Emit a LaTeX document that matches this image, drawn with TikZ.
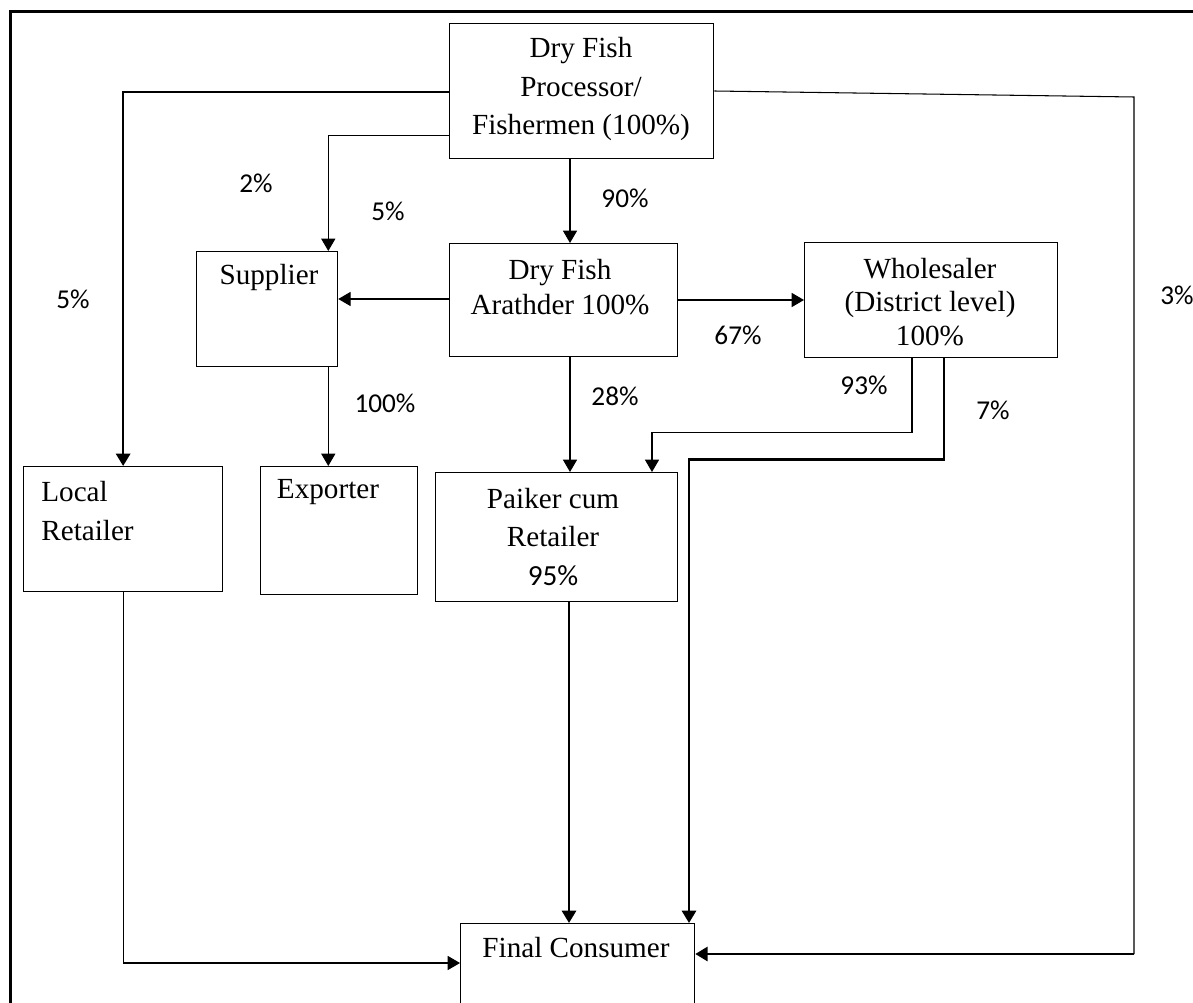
\documentclass[tikz,border=0pt]{standalone}
\usepackage{fontspec}
\setmainfont{Liberation Serif}
\newfontfamily\pctfont{Carlito}
\usepackage{tikz}
\usetikzlibrary{arrows.meta, calc}

\begin{document}
\begin{tikzpicture}[x=0.02cm, y=-0.02cm, >={Triangle[width=8pt,length=7pt]},
  box/.style={draw, line width=0.75pt, anchor=north west, inner sep=0pt},
  txt/.style={font=\fontsize{16.6}{21.8}\selectfont, align=center, inner sep=0pt},
  pct/.style={font=\pctfont\fontsize{15.5}{18}\selectfont, inner sep=0pt},
  link/.style={line width=0.6pt},
  boldlink/.style={line width=1.5pt}]
  \useasboundingbox (0,0) rectangle (1193,1003);
  % outer frame
  \draw[line width=1.4pt] (10.7,1010) -- (10.7,11.7) -- (1200,11.7);

  % boxes
  \node[box, minimum width=5.28cm, minimum height=2.7cm] (proc) at (449,23) {};
  \node[box, minimum width=2.82cm, minimum height=2.3cm] (sup) at (196,251) {};
  \node[box, minimum width=4.56cm, minimum height=2.26cm] (arat) at (449,243) {};
  \node[box, minimum width=5.06cm, minimum height=2.3cm] (whol) at (804,242) {};
  \node[box, minimum width=3.98cm, minimum height=2.5cm] (loc) at (23,466) {};
  \node[box, minimum width=3.14cm, minimum height=2.56cm] (exp) at (260,466) {};
  \node[box, minimum width=4.84cm, minimum height=2.58cm] (paik) at (435,472) {};
  \node[box, minimum width=4.68cm, minimum height=1.9cm] (fin) at (460,923) {};

  % box texts
  \node[txt] (procT) at (581,89) {Dry Fish\\Processor/\\Fishermen (100\%)};
  \node[txt] (supT) at (269,277) {Supplier};
  \node[txt, font=\fontsize{16.6}{20.4}\selectfont] (aratT) at (560,287) {Dry Fish\\Arathder 100\%};
  \node[txt, font=\fontsize{16.6}{19}\selectfont] (wholT) at (930,302) {Wholesaler\\(District level)\\100\%};
  \node[txt] (paikT) at (553,537) {Paiker cum\\Retailer\\{\pctfont 95\%}};
  \node[txt, align=left, anchor=west] (locT) at (41,511) {Local\\Retailer};
  \node[txt] (expT) at (328,492) {Exporter};
  \node[txt] (finT) at (576,948) {Final Consumer};

  % flows
  \draw[boldlink, ->] ($(proc.north west)+(0,69)$) -| (loc.north);
  \draw[link, ->] ($(proc.south west)+(0,-24)$) -| ($(sup.north east)+(-10,0)$);
  \draw[link, ->] ($(proc.south west)+(121,0)$) -- ($(arat.north west)+(121,0)$);
  \coordinate (c3) at (1134,97);
  \coordinate (finR) at ($(fin.north east)+(0,31)$);
  \draw[link] ($(proc.north east)+(0,68)$) -- (c3) -- (c3 |- finR);
  \draw[boldlink, ->] (c3 |- finR) -- (finR);
  \draw[link, ->] ($(arat.north west)+(0,56)$) coordinate (a1) -- (a1 -| sup.east);
  \draw[link, ->] ($(arat.north east)+(0,57)$) coordinate (a2) -- (a2 -| whol.west);
  \draw[link, ->] ($(sup.south east)+(-10,0)$) coordinate (s1) -- (s1 |- exp.north);
  \draw[link, ->] ($(arat.south west)+(121,0)$) coordinate (a3) -- (a3 |- paik.north);
  \draw[link, ->] ($(whol.south west)+(108,0)$) -- ++(0,74) -| ($(paik.north west)+(217,0)$);
  \draw[boldlink, ->] ($(whol.south west)+(140,0)$) -- ++(0,101) -| ($(fin.north west)+(229,0)$);
  \draw[boldlink, ->] ($(paik.south west)+(134,0)$) coordinate (p1) -- (p1 |- fin.north);
  \draw[link, ->] (loc.south) |- ($(fin.north west)+(0,40)$);

  % shares
  \node[pct] (p2) at (256,183) {2\%};
  \node[pct] (p5a) at (388,211) {5\%};
  \node[pct] (p90) at (625,198) {90\%};
  \node[pct] (p5b) at (73,299) {5\%};
  \node[pct] (p3) at (1177,295) {3\%};
  \node[pct] (p67) at (738,335) {67\%};
  \node[pct] (p100) at (385,403) {100\%};
  \node[pct] (p28) at (615,396) {28\%};
  \node[pct] (p93) at (864,385) {93\%};
  \node[pct] (p7) at (993,410) {7\%};
\end{tikzpicture}
\end{document}
